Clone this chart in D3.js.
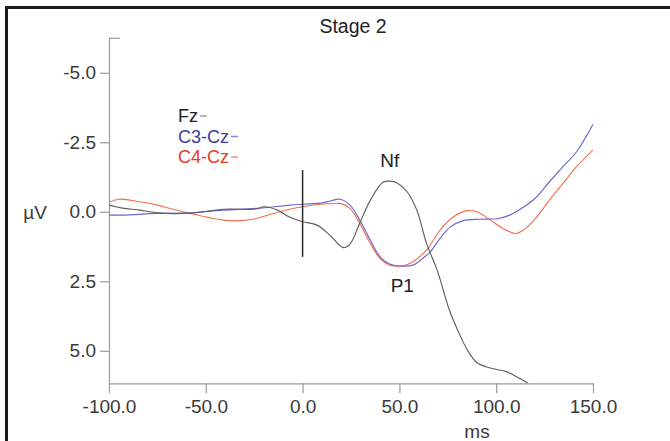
<!DOCTYPE html>
<html>
<head>
<meta charset="utf-8">
<script src="https://cdn.jsdelivr.net/npm/d3@7/dist/d3.min.js"></script>
<style>
  html, body { margin: 0; padding: 0; background: #fff; }
  svg { display: block; }
  text { font-family: "Liberation Sans", Arial, Helvetica, sans-serif; }
</style>
</head>
<body>
<svg id="chart" width="670" height="441"></svg>
<script>
// ERP waveforms, Stage 2 (time in ms, amplitude in µV, negative up)
const fzTime = [-100, -93, -84, -75, -58, -41, -24, -20, -13, -6.5, 0, 7.5, 14, 21, 24.5, 29.5, 35, 41.5, 45, 49, 54, 59, 64, 69.5, 76, 80, 85, 90, 97, 105.5, 112, 116.5];
const fzValues = [-0.24, -0.13, -0.06, 0.04, 0.05, -0.09, -0.1, -0.18, -0.06, 0.2, 0.36, 0.48, 0.84, 1.29, 1.16, 0.41, -0.42, -1.06, -1.1, -1.03, -0.72, -0.06, 1.13, 2.1, 3.57, 4.24, 4.96, 5.42, 5.62, 5.76, 5.99, 6.17];

const c3Time = [-100, -93, -75, -58, -41, -24, -6.5, 0, 10.5, 14, 19.5, 24.5, 29.5, 35, 40, 45, 50, 57, 62, 66, 71, 76, 83, 91.5, 100.5, 107, 114, 121, 127.5, 134.5, 141.5, 150];
const c3Values = [0.12, 0.12, 0.06, 0.04, -0.06, -0.12, -0.24, -0.27, -0.32, -0.38, -0.45, -0.24, 0.3, 1.02, 1.62, 1.88, 1.95, 1.92, 1.68, 1.44, 0.96, 0.56, 0.32, 0.27, 0.25, 0.12, -0.16, -0.54, -1.08, -1.62, -2.16, -3.15];

const c4Time = [-100, -95, -84, -75, -67, -58, -49, -41, -32, -24, -15, -6.5, 0, 10.5, 18, 19.5, 24.5, 29.5, 35, 40, 45, 52, 57, 64, 71, 78, 85, 90, 97, 103.5, 110, 114, 121, 127.5, 134.5, 141.5, 150];
const c4Values = [-0.34, -0.45, -0.36, -0.24, -0.09, 0.06, 0.2, 0.3, 0.32, 0.24, 0.06, -0.09, -0.18, -0.28, -0.3, -0.3, -0.12, 0.42, 1.14, 1.68, 1.92, 1.94, 1.8, 1.38, 0.66, 0.18, -0.04, 0.0, 0.3, 0.6, 0.78, 0.66, 0.18, -0.42, -1.02, -1.62, -2.22];

const seriesNames = ["Fz", "C3-Cz", "C4-Cz"];
const xTicks = [-100, -50, 0, 50, 100, 150];
const xTickLabels = ["-100.0", "-50.0", "0.0", "50.0", "100.0", "150.0"];
const yTicks = [-5, -2.5, 0, 2.5, 5];
const yTickLabels = ["-5.0", "-2.5", "0.0", "2.5", "5.0"];
const stimulusMarker = { time: 0, from: -1.5, to: 1.62 };
const peakLabels = [
  { name: "Nf", time: 45, value: -1.62 },
  { name: "P1", time: 51.5, value: 2.9 }
];

const svg = d3.select("#chart");

// outer frame (only its top and left edges fall inside the view)
svg.append("rect")
  .attr("x", 6.5).attr("y", 7.5)
  .attr("width", 700).attr("height", 500)
  .attr("fill", "none")
  .attr("stroke", "#1c1c1c")
  .attr("stroke-width", 3);

const plot = { left: 109, right: 593, top: 38.3, bottom: 383.3 };

const x = d3.scaleLinear().domain([-100, 150]).range([plot.left, plot.right]);
const y = d3.scaleLinear().domain([-6.24, 6.17]).range([plot.top, plot.bottom]);

// title
svg.append("text")
  .attr("x", 353).attr("y", 33)
  .attr("text-anchor", "middle")
  .attr("font-size", 19.5)
  .attr("fill", "#222")
  .text("Stage 2");

// axes
const axisColor = "#9a9a9a";
const labelColor = "#3a3a3a";

const yAxis = svg.append("g")
  .attr("transform", `translate(${plot.left},0)`)
  .call(d3.axisLeft(y).tickValues(yTicks).tickSize(9).tickSizeOuter(0).tickPadding(4)
    .tickFormat((d, i) => yTickLabels[i]));
yAxis.select(".domain").attr("stroke", axisColor).attr("stroke-width", 1.2);
yAxis.selectAll(".tick line").attr("stroke", axisColor).attr("stroke-width", 1.2);
yAxis.selectAll(".tick text").attr("font-size", 19).attr("fill", labelColor)
  .attr("font-family", "Liberation Sans, Arial, sans-serif");

// small cap at the top of the vertical axis
svg.append("line")
  .attr("x1", plot.left).attr("x2", plot.left + 11)
  .attr("y1", y.range()[0]).attr("y2", y.range()[0])
  .attr("stroke", axisColor).attr("stroke-width", 1.2);

const xAxis = svg.append("g")
  .attr("transform", `translate(0,${plot.bottom})`)
  .call(d3.axisBottom(x).tickValues(xTicks).tickSize(10).tickSizeOuter(0).tickPadding(6)
    .tickFormat((d, i) => xTickLabels[i]));
xAxis.select(".domain").attr("stroke", axisColor).attr("stroke-width", 1.2);
xAxis.selectAll(".tick line").attr("stroke", axisColor).attr("stroke-width", 1.2);
xAxis.selectAll(".tick text").attr("font-size", 19).attr("fill", labelColor)
  .attr("font-family", "Liberation Sans, Arial, sans-serif");

// axis titles
svg.append("text")
  .attr("x", 35).attr("y", 219)
  .attr("text-anchor", "middle")
  .attr("font-size", 19).attr("fill", labelColor)
  .text("µV");
svg.append("text")
  .attr("x", 477).attr("y", 438)
  .attr("text-anchor", "middle")
  .attr("font-size", 19).attr("fill", labelColor)
  .text("ms");

// waveforms
svg.append("clipPath").attr("id", "plot-clip")
  .append("rect")
  .attr("x", plot.left).attr("y", plot.top)
  .attr("width", plot.right - plot.left).attr("height", plot.bottom - plot.top);

const series = [
  { name: seriesNames[0], time: fzTime, values: fzValues, line: "#5e5e5e", text: "#1e1e1e", swatch: "#a0a0a0" },
  { name: seriesNames[1], time: c3Time, values: c3Values, line: "#6a6ad0", text: "#3a3ea6", swatch: "#8a8ad8" },
  { name: seriesNames[2], time: c4Time, values: c4Values, line: "#f2704e", text: "#ea3a22", swatch: "#f08a78" }
];

const line = d3.line()
  .x(d => x(d[0]))
  .y(d => y(d[1]))
  .curve(d3.curveCatmullRom.alpha(0.5));

const waves = svg.append("g").attr("clip-path", "url(#plot-clip)");
// draw C4 first, then C3, then Fz on top
[series[2], series[1], series[0]].forEach(s => {
  waves.append("path")
    .datum(s.time.map((t, i) => [t, s.values[i]]))
    .attr("fill", "none")
    .attr("stroke", s.line)
    .attr("stroke-width", 1.15)
    .attr("d", line);
});

// stimulus onset marker
svg.append("line")
  .attr("x1", x(stimulusMarker.time)).attr("x2", x(stimulusMarker.time))
  .attr("y1", y(stimulusMarker.from)).attr("y2", y(stimulusMarker.to))
  .attr("stroke", "#2a2a2a").attr("stroke-width", 1.5);

// component labels
svg.selectAll(".peak")
  .data(peakLabels)
  .enter().append("text")
  .attr("class", "peak")
  .attr("x", d => x(d.time))
  .attr("y", d => y(d.value))
  .attr("text-anchor", "middle")
  .attr("font-size", 19)
  .attr("fill", "#222")
  .text(d => d.name);

// legend
const legend = svg.append("g").attr("transform", "translate(178,0)");
const legendY = [122, 142.5, 163];
series.forEach((s, i) => {
  const t = legend.append("text")
    .attr("x", 0).attr("y", legendY[i])
    .attr("font-size", 18)
    .attr("fill", s.text)
    .text(s.name);
  const w = t.node().getComputedTextLength();
  legend.append("line")
    .attr("x1", w + 2).attr("x2", w + 9)
    .attr("y1", legendY[i] - 6).attr("y2", legendY[i] - 6)
    .attr("stroke", s.swatch).attr("stroke-width", 1.5);
});
</script>
</body>
</html>
